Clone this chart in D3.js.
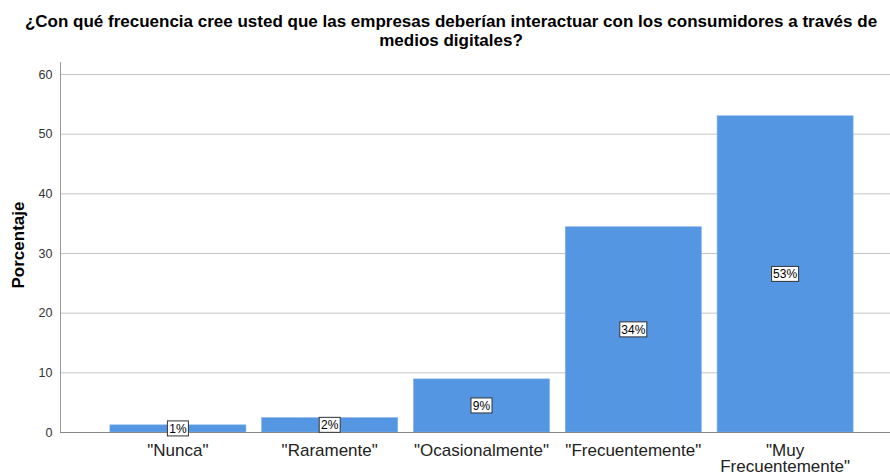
<!DOCTYPE html>
<html>
<head>
<meta charset="utf-8">
<script src="https://cdn.jsdelivr.net/npm/d3@7"></script>
<style>
  body { margin: 0; background: #fff; }
  text { font-family: "Liberation Sans", Arial, sans-serif; }
</style>
</head>
<body>
<div id="chart"></div>
<script>
    var categories = ['"Nunca"', '"Raramente"', '"Ocasionalmente"', '"Frecuentemente"', '"Muy Frecuentemente"'];
    var percents = [1.2, 2.4, 8.9, 34.4, 53.0];
    var barLabels = ["1%", "2%", "9%", "34%", "53%"];
    var yTicks = [0, 10, 20, 30, 40, 50, 60];

    var w = 890,
        h = 472;

    var svg = d3.select("#chart").append("svg")
        .attr("width", w)
        .attr("height", h);

    var x = d3.scaleBand()
        .domain(categories)
        .range([102, 861])
        .paddingInner(0.104)
        .paddingOuter(0.052);

    var y = d3.scaleLinear()
        .domain([0, 60])
        .range([432, 74]);

    // title
    var title = svg.append("text")
        .attr("text-anchor", "middle")
        .style("font-size", "17px")
        .style("font-weight", "bold")
        .style("fill", "#000");
    title.append("tspan").attr("x", 451).attr("y", 27)
        .text("¿Con qué frecuencia cree usted que las empresas deberían interactuar con los consumidores a través de");
    title.append("tspan").attr("x", 451).attr("y", 46)
        .text("medios digitales?");

    // gridlines
    svg.append("g").selectAll("line")
        .data(yTicks.filter(function (d) { return d > 0; }))
        .enter().append("line")
        .attr("x1", 60).attr("x2", w)
        .attr("y1", function (d) { return y(d) + 0.5; })
        .attr("y2", function (d) { return y(d) + 0.5; })
        .style("stroke", "#c4c4c4")
        .style("stroke-width", "1px");

    // bars
    svg.append("g").selectAll("rect")
        .data(percents)
        .enter().append("rect")
        .attr("x", function (d, i) { return x(categories[i]); })
        .attr("width", x.bandwidth())
        .attr("y", function (d) { return y(d); })
        .attr("height", function (d) { return y(0) - y(d); })
        .style("fill", "#5596e2")
        .style("stroke", "#7fb0ea")
        .style("stroke-width", "0.6px");

    // y axis
    var yAxis = d3.axisLeft(y).tickValues(yTicks).tickSize(0).tickPadding(8);
    var ga = svg.append("g").attr("transform", "translate(60.5,0)").call(yAxis);
    ga.select(".domain").remove();
    ga.selectAll("text")
        .style("font-size", "12.5px")
        .style("fill", "#333")
        .style("font-family", "'Liberation Sans', Arial, sans-serif");
    svg.append("line")
        .attr("x1", 60.5).attr("x2", 60.5)
        .attr("y1", 62).attr("y2", y(0))
        .style("stroke", "#999").style("stroke-width", "1px");

    // baseline
    svg.append("line")
        .attr("x1", 60).attr("x2", w)
        .attr("y1", y(0) + 0.5).attr("y2", y(0) + 0.5)
        .style("stroke", "#888").style("stroke-width", "1px");

    // y label
    svg.append("text")
        .attr("transform", "translate(24,245) rotate(-90)")
        .attr("text-anchor", "middle")
        .style("font-size", "17px")
        .style("font-weight", "bold")
        .text("Porcentaje");

    // x labels (wrap long one)
    var xl = svg.append("g").selectAll("text")
        .data(categories)
        .enter().append("text")
        .attr("text-anchor", "middle")
        .style("font-size", "17px")
        .style("fill", "#222");
    xl.each(function (d) {
        var t = d3.select(this);
        var cx = x(d) + x.bandwidth() / 2;
        var parts = d.length > 18 ? ['"Muy', 'Frecuentemente"'] : [d];
        parts.forEach(function (p, k) {
            t.append("tspan").attr("x", cx).attr("y", 456 + k * 16).text(p);
        });
    });

    // value boxes
    var lab = svg.append("g").selectAll("g")
        .data(percents)
        .enter().append("g")
        .attr("transform", function (d, i) {
            return "translate(" + (x(categories[i]) + x.bandwidth() / 2) + "," + ((y(d) + y(0)) / 2) + ")";
        });
    lab.append("text")
        .attr("text-anchor", "middle")
        .attr("dy", "0.35em")
        .style("font-size", "12px")
        .style("fill", "#000")
        .text(function (d, i) { return barLabels[i]; });
    lab.each(function () {
        var g = d3.select(this);
        var bb = g.select("text").node().getBBox();
        g.insert("rect", "text")
            .attr("x", Math.round(bb.x) - 1.5)
            .attr("y", Math.round(bb.y) - 0.5)
            .attr("width", Math.round(bb.width) + 3)
            .attr("height", Math.round(bb.height) + 1)
            .style("fill", "#fff")
            .style("stroke", "#333")
            .style("stroke-width", "1px");
    });
</script>
</body>
</html>
